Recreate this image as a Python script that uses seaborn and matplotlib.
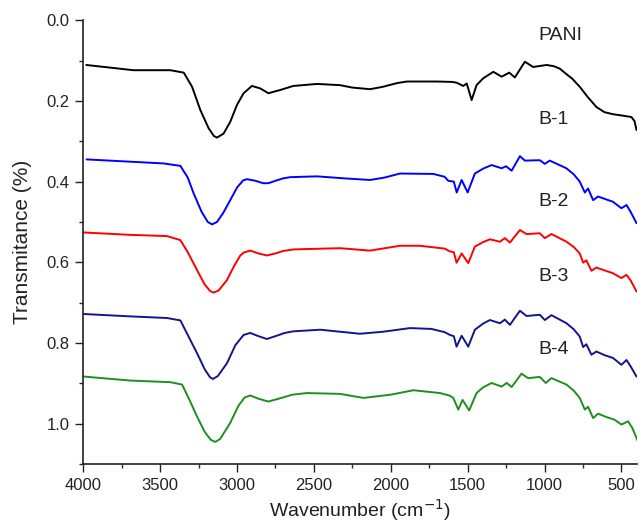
import numpy as np
import pandas as pd
import matplotlib
matplotlib.use('Agg')
import matplotlib.pyplot as plt
import seaborn as sns
from matplotlib.ticker import MultipleLocator, FormatStrFormatter

# wavenumber (cm-1) / transmitance values
pani_x = [3980, 3673, 3433, 3346, 3292, 3238, 3184, 3150, 3130, 3087, 3044, 3000, 2957, 2903,
          2849, 2796, 2719, 2634, 2480, 2330, 2250, 2135, 2050, 1960, 1896, 1700, 1600, 1571,
          1529, 1506, 1474, 1442, 1399, 1333, 1279, 1229, 1193, 1128, 1074, 987, 940, 901,
          860, 820, 771, 720, 663, 610, 555, 500, 435, 415, 402]
pani_y = [0.111, 0.124, 0.124, 0.130, 0.165, 0.223, 0.268, 0.287, 0.291, 0.281, 0.252, 0.210, 0.181, 0.163,
          0.169, 0.181, 0.173, 0.163, 0.158, 0.161, 0.167, 0.171, 0.165, 0.156, 0.152, 0.152, 0.153, 0.155,
          0.163, 0.157, 0.198, 0.161, 0.144, 0.128, 0.140, 0.130, 0.142, 0.103, 0.116, 0.111, 0.114, 0.120,
          0.133, 0.145, 0.165, 0.190, 0.215, 0.228, 0.233, 0.236, 0.240, 0.250, 0.272]

b1_x = [3978, 3477, 3368, 3320, 3282, 3230, 3190, 3162, 3130, 3090, 3044, 3000, 2960, 2935,
        2880, 2830, 2796, 2750, 2700, 2654, 2480, 2300, 2135, 2040, 1940, 1723, 1650, 1626,
        1590, 1571, 1539, 1500, 1453, 1400, 1344, 1279, 1250, 1214, 1160, 1128, 1031, 998,
        966, 858, 810, 771, 738, 717, 684, 652, 600, 555, 500, 467, 440, 402]
b1_y = [0.345, 0.355, 0.361, 0.390, 0.429, 0.475, 0.500, 0.506, 0.500, 0.478, 0.446, 0.415, 0.397, 0.394,
        0.398, 0.404, 0.404, 0.398, 0.392, 0.389, 0.387, 0.392, 0.396, 0.390, 0.380, 0.381, 0.388, 0.398,
        0.400, 0.427, 0.396, 0.427, 0.380, 0.368, 0.359, 0.367, 0.362, 0.373, 0.337, 0.348, 0.347, 0.356,
        0.348, 0.367, 0.382, 0.400, 0.427, 0.417, 0.446, 0.437, 0.444, 0.450, 0.466, 0.458, 0.475, 0.503]

b2_x = [4000, 3693, 3455, 3368, 3320, 3260, 3210, 3175, 3152, 3120, 3065, 3020, 2980, 2957,
        2914, 2860, 2806, 2750, 2700, 2632, 2330, 2135, 1940, 1810, 1650, 1615, 1590, 1572,
        1539, 1496, 1453, 1400, 1355, 1290, 1258, 1225, 1160, 1117, 1031, 998, 955, 857,
        810, 771, 749, 728, 695, 663, 610, 555, 500, 467, 440, 402]
b2_y = [0.526, 0.532, 0.535, 0.545, 0.575, 0.619, 0.655, 0.671, 0.675, 0.670, 0.644, 0.610, 0.584, 0.576,
        0.571, 0.578, 0.583, 0.578, 0.572, 0.568, 0.565, 0.571, 0.559, 0.559, 0.566, 0.573, 0.575, 0.601,
        0.578, 0.602, 0.561, 0.550, 0.543, 0.549, 0.540, 0.551, 0.520, 0.530, 0.528, 0.540, 0.530, 0.549,
        0.562, 0.578, 0.601, 0.595, 0.621, 0.613, 0.620, 0.627, 0.639, 0.631, 0.645, 0.672]

b3_x = [4000, 3693, 3455, 3368, 3320, 3260, 3210, 3175, 3156, 3125, 3065, 3010, 2957, 2914,
        2860, 2806, 2750, 2690, 2632, 2459, 2200, 2050, 1875, 1736, 1650, 1615, 1590, 1572,
        1539, 1496, 1453, 1400, 1355, 1290, 1258, 1225, 1160, 1117, 1031, 998, 955, 857,
        810, 771, 749, 728, 695, 663, 610, 555, 500, 467, 440, 402]
b3_y = [0.728, 0.734, 0.738, 0.744, 0.780, 0.825, 0.865, 0.885, 0.889, 0.882, 0.850, 0.805, 0.780, 0.775,
        0.783, 0.790, 0.783, 0.775, 0.771, 0.767, 0.777, 0.772, 0.763, 0.765, 0.773, 0.780, 0.783, 0.809,
        0.782, 0.809, 0.767, 0.752, 0.743, 0.751, 0.742, 0.755, 0.720, 0.733, 0.730, 0.743, 0.731, 0.751,
        0.766, 0.784, 0.810, 0.803, 0.829, 0.821, 0.830, 0.837, 0.854, 0.842, 0.858, 0.883]

b4_x = [4000, 3693, 3433, 3357, 3310, 3260, 3210, 3170, 3141, 3110, 3044, 2990, 2950, 2914,
        2860, 2796, 2720, 2640, 2545, 2330, 2178, 2000, 1853, 1680, 1620, 1593, 1561, 1533,
        1490, 1442, 1400, 1344, 1279, 1246, 1214, 1150, 1107, 1031, 992, 955, 857, 810,
        771, 738, 717, 684, 652, 600, 545, 500, 457, 430, 392]
b4_y = [0.883, 0.893, 0.897, 0.903, 0.940, 0.982, 1.020, 1.040, 1.045, 1.038, 0.998, 0.955, 0.935, 0.930,
        0.938, 0.945, 0.937, 0.928, 0.924, 0.926, 0.936, 0.928, 0.917, 0.924, 0.930, 0.936, 0.965, 0.941,
        0.967, 0.924, 0.910, 0.899, 0.908, 0.899, 0.909, 0.876, 0.887, 0.884, 0.899, 0.887, 0.903, 0.918,
        0.936, 0.965, 0.958, 0.986, 0.975, 0.983, 0.990, 1.002, 0.994, 1.010, 1.044]

samples = ['PANI', 'B-1', 'B-2', 'B-3', 'B-4']
label_y = [0.037, 0.245, 0.45, 0.636, 0.817]
colores = ['#000000', '#0000ff', '#ff0000', '#14148c', '#1f8f1f']

xs = [pani_x, b1_x, b2_x, b3_x, b4_x]
ys = [pani_y, b1_y, b2_y, b3_y, b4_y]
frames = []
for nome, x, y in zip(samples, xs, ys):
    frames.append(pd.DataFrame({'wn': x, 'T': y, 'sample': nome}))
df = pd.concat(frames, ignore_index=True)

sns.set_style('ticks')
plt.rcParams['font.family'] = ['Liberation Sans', 'DejaVu Sans']

fig = plt.figure(figsize=(6.4, 5.31), dpi=100)
ax = fig.add_axes([0.13, 0.126, 0.865, 0.836])

sns.lineplot(data=df, x='wn', y='T', hue='sample', palette=dict(zip(samples, colores)),
             estimator=None, sort=False, legend=False, linewidth=1.4, ax=ax)
for ln in ax.lines:
    ln.set_solid_joinstyle('round')

for nome, yy in zip(samples, label_y):
    ax.text(1037, yy, nome, fontsize=14, color='#222222', ha='left', va='center')

ax.set_xlim(4000, 400)
ax.set_ylim(1.1, 0.0)
ax.xaxis.set_major_locator(MultipleLocator(500))
ax.xaxis.set_minor_locator(MultipleLocator(250))
ax.yaxis.set_major_locator(MultipleLocator(0.2))
ax.yaxis.set_minor_locator(MultipleLocator(0.1))
ax.yaxis.set_major_formatter(FormatStrFormatter('%.1f'))
ax.tick_params(which='major', length=6, width=1, labelsize=12, pad=4, colors='#222222')
ax.tick_params(which='minor', length=3, width=1)
for s in ['left', 'bottom']:
    ax.spines[s].set_linewidth(1.2)
    ax.spines[s].set_color('#222222')
sns.despine(ax=ax)

ax.set_xlabel('Wavenumber (cm$^{-1}$)', fontsize=14, labelpad=3, color='#222222')
ax.set_ylabel('Transmitance (%)', fontsize=15, labelpad=10, color='#222222')

plt.savefig('out.png', dpi=100)
